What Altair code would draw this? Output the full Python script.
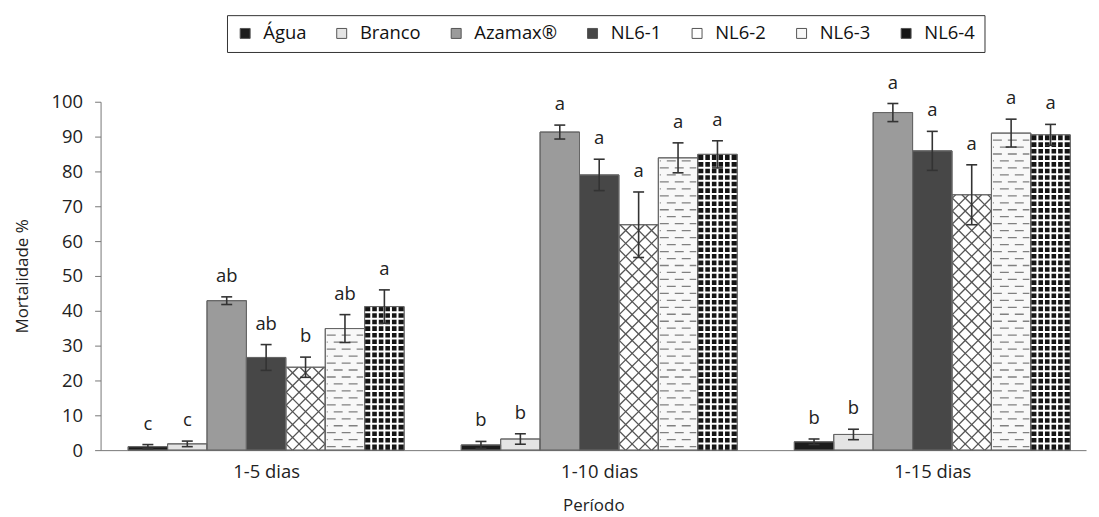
import altair as alt
import pandas as pd
import numpy as np

# ---------------- data ----------------
groups = ["1-5 dias", "1-10 dias", "1-15 dias"]
series = ["Água", "Branco", "Azamax®", "NL6-1", "NL6-2", "NL6-3", "NL6-4"]

agua = [1.0, 1.5, 2.4]
branco = [1.8, 3.2, 4.5]
azamax = [42.9, 91.3, 96.9]
nl61 = [26.6, 79.0, 85.9]
nl62 = [23.8, 64.7, 73.3]
nl63 = [34.9, 83.9, 91.0]
nl64 = [41.2, 84.9, 90.5]

err_agua = [0.6, 1.0, 0.8]
err_branco = [0.8, 1.5, 1.5]
err_azamax = [1.1, 2.0, 2.6]
err_nl61 = [3.7, 4.5, 5.6]
err_nl62 = [2.9, 9.4, 8.6]
err_nl63 = [4.0, 4.3, 4.0]
err_nl64 = [4.8, 3.9, 3.0]

letters_1_5 = ["c", "c", "ab", "ab", "b", "ab", "a"]
letters_1_10 = ["b", "b", "a", "a", "a", "a", "a"]
letters_1_15 = ["b", "b", "a", "a", "a", "a", "a"]

fills = ["#1c1c1c", "#e4e4e4", "#9b9b9b", "#474747", "#ffffff", "#f8f8f8", "#151515"]

# ---------------- layout helpers ----------------
W, H = 990, 350
STEP = 8.45            # group step, in bar widths
XMIN, XMAX = -0.7, 24.3
PX_X = W / (XMAX - XMIN)   # pixels per x unit (one bar width)
PX_Y = H / 100.0           # pixels per percentage point

means = [agua, branco, azamax, nl61, nl62, nl63, nl64]
errs = [err_agua, err_branco, err_azamax, err_nl61, err_nl62, err_nl63, err_nl64]
letters = [letters_1_5, letters_1_10, letters_1_15]

rows = []
for g, gname in enumerate(groups):
    for i, s in enumerate(series):
        xa = g * STEP + i
        m = means[i][g]
        e = errs[i][g]
        rows.append(dict(group=gname, series=s, xa=xa, xb=xa + 1, xc=xa + 0.5,
                         mean=m, lo=m - e, hi=m + e, letter=letters[g][i],
                         cl=xa + 0.5 - 5.5 / PX_X, cr=xa + 0.5 + 5.5 / PX_X))
df = pd.DataFrame(rows)

# ---- pattern decoration derived from the bars ----
hatch, dash_even, dash_odd, grid = [], [], [], []
for r in rows:
    w = PX_X
    h = r["mean"] * PX_Y
    if r["series"] == "NL6-2":
        s = 13.0
        for c in np.arange(-w + s / 2, h, s):
            x0, x1 = max(0.0, -c), min(w, h - c)
            if x1 > x0:
                hatch.append(dict(x=r["xa"] + x0 / PX_X, x2=r["xa"] + x1 / PX_X,
                                  y=(x0 + c) / PX_Y, y2=(x1 + c) / PX_Y))
        for c in np.arange(s / 2, h + w, s):
            x0, x1 = max(0.0, c - h), min(w, c)
            if x1 > x0:
                hatch.append(dict(x=r["xa"] + x0 / PX_X, x2=r["xa"] + x1 / PX_X,
                                  y=(c - x0) / PX_Y, y2=(c - x1) / PX_Y))
    elif r["series"] == "NL6-3":
        k = 0
        yp = 3.5
        while yp < h - 2:
            d = dict(x=r["xa"] + 1.5 / PX_X, x2=r["xb"] - 1.5 / PX_X, y=yp / PX_Y)
            (dash_even if k % 2 == 0 else dash_odd).append(d)
            yp += 7.0
            k += 1
    elif r["series"] == "NL6-4":
        for j in range(1, 6):
            grid.append(dict(x=r["xa"] + j / 6, x2=r["xa"] + j / 6, y=0.0, y2=r["mean"]))
        yp = 6.6
        while yp < h - 2:
            grid.append(dict(x=r["xa"], x2=r["xb"], y=yp / PX_Y, y2=yp / PX_Y))
            yp += 6.6

hatch_df = pd.DataFrame(hatch)
dash_even_df = pd.DataFrame(dash_even)
dash_odd_df = pd.DataFrame(dash_odd)
grid_df = pd.DataFrame(grid)

centers = [g * STEP + 3.5 for g in range(len(groups))]
label_expr = " : ".join(
    [f"abs(datum.value - {c}) < 1 ? '{n}'" for c, n in zip(centers, groups)]) + " : ''"

FONT = "Open Sans"

xscale = alt.Scale(domain=[XMIN, XMAX], nice=False, zero=False)
yscale = alt.Scale(domain=[0, 100], nice=False)

xaxis = alt.Axis(values=centers, labelExpr=label_expr, title="Período",
                 ticks=False, grid=False, labelPadding=12, titlePadding=17,
                 domainColor="#777777")
yaxis = alt.Axis(values=list(range(0, 101, 10)), title="Mortalidade %",
                 grid=False, tickSize=6, labelPadding=12, titlePadding=20,
                 domainColor="#777777", tickColor="#777777")

X = lambda f: alt.X(f"{f}:Q", scale=xscale, axis=xaxis)
Y = lambda f: alt.Y(f"{f}:Q", scale=yscale, axis=yaxis)

bars = alt.Chart(df).mark_rect(stroke="#666666", strokeWidth=1).encode(
    x=X("xa"),
    x2="xb:Q",
    y=Y("mean"),
    y2=alt.Y2(datum=0),
    color=alt.Color("series:N",
                    scale=alt.Scale(domain=series, range=fills),
                    legend=alt.Legend(title=None, orient="none", direction="horizontal",
                                      legendX=127, legendY=-87,
                                      symbolType="square", symbolSize=100,
                                      symbolStrokeColor="#555555", symbolStrokeWidth=1,
                                      labelFont=FONT, labelFontSize=18.5,
                                      labelColor="#111111", labelOffset=9,
                                      columnPadding=26, padding=9,
                                      strokeColor="#333333")),
)

hatch_layer = alt.Chart(hatch_df).mark_rule(color="#555555", strokeWidth=1.3).encode(
    x=X("x"), x2="x2", y=Y("y"), y2="y2")
dash_a = alt.Chart(dash_even_df).mark_rule(color="#808080", strokeWidth=1.3,
                                           strokeDash=[9, 6], strokeDashOffset=0).encode(
    x=X("x"), x2="x2", y=Y("y"))
dash_b = alt.Chart(dash_odd_df).mark_rule(color="#808080", strokeWidth=1.3,
                                          strokeDash=[9, 6], strokeDashOffset=8).encode(
    x=X("x"), x2="x2", y=Y("y"))
grid_layer = alt.Chart(grid_df).mark_rule(color="#ffffff", strokeWidth=2).encode(
    x=X("x"), x2="x2", y=Y("y"), y2="y2")

outline = alt.Chart(df).mark_rect(fillOpacity=0, stroke="#666666", strokeWidth=1).encode(
    x=X("xa"), x2="xb", y=Y("mean"), y2=alt.Y2(datum=0))

err_rule = alt.Chart(df).mark_rule(color="#333333", strokeWidth=1.6).encode(
    x=X("xc"), y=Y("lo"), y2="hi")
cap_hi = alt.Chart(df).mark_rule(color="#333333", strokeWidth=1.6).encode(
    x=X("cl"), x2="cr", y=Y("hi"))
cap_lo = alt.Chart(df).mark_rule(color="#333333", strokeWidth=1.6).encode(
    x=X("cl"), x2="cr", y=Y("lo"))

labels = alt.Chart(df).mark_text(font=FONT, fontSize=18.5, color="#222222",
                                 baseline="alphabetic", dy=-15).encode(
    x=X("xc"), y=Y("hi"), text="letter:N")

chart = alt.layer(bars, hatch_layer, dash_a, dash_b, grid_layer, outline,
                  err_rule, cap_hi, cap_lo, labels).properties(
    width=W, height=H
).configure_view(stroke=None).configure_axis(
    labelFont=FONT, labelFontSize=18.5, labelColor="#222222",
    titleFont=FONT, titleFontSize=17, titleFontWeight="normal", titleColor="#222222"
)

chart.save("out.html", embed_options={"renderer": "svg", "actions": False})
